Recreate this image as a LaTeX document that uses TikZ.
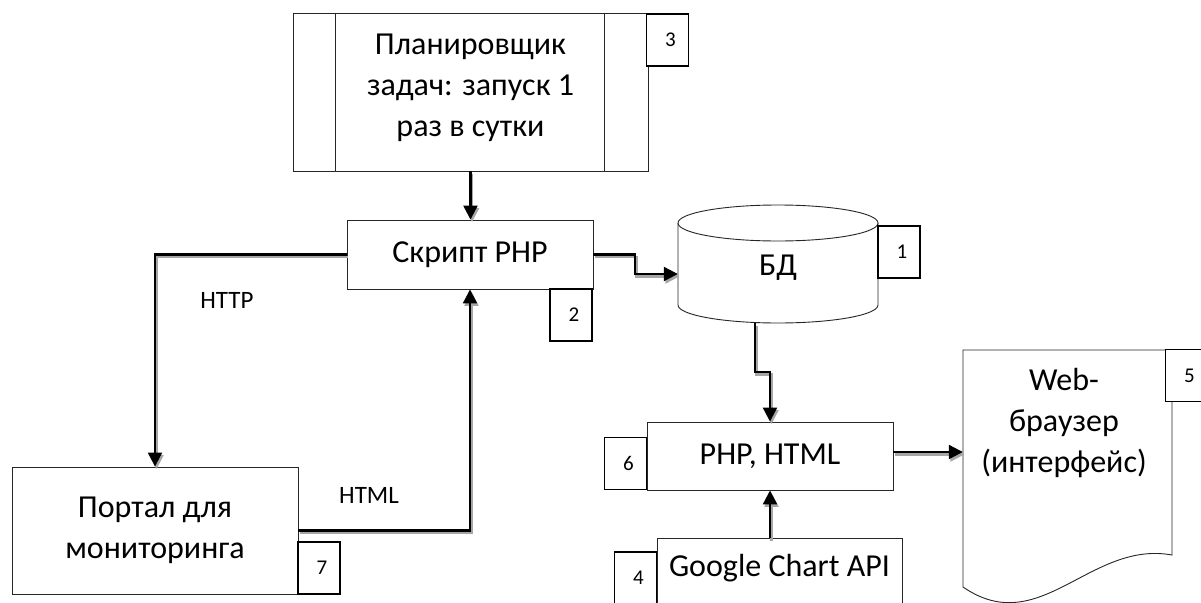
\documentclass[tikz,border=0pt]{standalone}
\usepackage{fontspec}
\setmainfont{Carlito}
\usetikzlibrary{arrows.meta,calc}
\tikzset{
 box/.style={draw=black!85, line width=0.9pt, fill=white, inner sep=0pt, align=center},
 badge/.style={draw=black, line width=1.6pt, fill=white, minimum width=42pt, minimum height=52pt, inner sep=0pt, font=\fontsize{21}{24}\selectfont},
 txt/.style={align=center, font=\fontsize{32}{41}\selectfont, inner sep=0pt},
 lbl/.style={font=\fontsize{25}{28}\selectfont, inner sep=0pt},
 conn/.style={draw=black, line width=2.2pt, -{Triangle[length=14pt,width=14pt]}},
 connsh/.style={draw=black!35, line width=2.2pt, -{Triangle[length=14pt,width=14pt]}, transform canvas={shift={(1.5pt,-2.5pt)}}},
 ghost/.style={inner sep=0pt}
}
\newcommand\linkpath[1]{\draw[connsh] #1; \draw[conn] #1;}
\begin{document}
\begin{tikzpicture}[x=1pt,y=-1pt]
\useasboundingbox (0,0) rectangle (1201,602);
\fill[white] (0,0) rectangle (1201,602);
\clip (0,0) rectangle (1201,602);

% planner
\node[box, txt, minimum width=355pt, minimum height=158pt, text depth=14pt] (plan) at (470.5,92) {Планировщик\\задач: запуск 1\\раз в сутки};
\draw[black!85, line width=0.9pt] ($(plan.north west)+(43,0)$) -- ($(plan.south west)+(43,0)$);
\draw[black!85, line width=0.9pt] ($(plan.north east)+(-44,0)$) -- ($(plan.south east)+(-44,0)$);

% script
\node[box, txt, minimum width=246pt, minimum height=69pt] (script) at (470,254.5) {Скрипт PHP};

% database cylinder
\draw[black!85, line width=0.9pt, fill=white] (678,223) -- (678,305) arc[start angle=180, end angle=360, x radius=100pt, y radius=18pt] -- (878,223);
\draw[black!85, line width=0.9pt, fill=white] (778,223) ellipse [x radius=100pt, y radius=18pt];
\node[ghost, txt, minimum width=200pt, minimum height=110pt] (db) at (778,268) {БД};

% php html
\node[box, txt, minimum width=246pt, minimum height=68pt] (php) at (770,456) {PHP, HTML};

% google
\node[box, minimum width=245pt, minimum height=90pt, anchor=north] (google) at (779.5,538) {};
\node[txt] at (779.5,568) {Google Chart API};

% portal
\node[box, txt, minimum width=286pt, minimum height=127pt] (portal) at (155,530.5) {Портал для\\мониторинга};

% web browser (document shape)
\path[draw=black!85, line width=0.9pt, fill=white] (963,350) -- (1172,350) -- (1172,555) .. controls (1090,540) and (1040,640) .. (963,587) -- cycle;
\node[ghost, minimum width=209pt, minimum height=237pt] (web) at (1067.5,468.5) {};
\node[txt] at (1064,423) {Web-\\браузер\\(интерфейс)};

% connectors
\linkpath{(plan.south) -- (plan.south |- script.north)}
\linkpath{(script.west) -| (portal.north)}
\linkpath{(portal.east) -| (script.south)}
\coordinate (m1) at (635,274);
\linkpath{(script.east) -| (m1) -- (m1 -| db.west)}
\coordinate (m2) at (770,372);
\linkpath{($(db.south)+(-23,0)$) |- (m2) -- (php.north)}
\linkpath{(php.south |- google.north) -- (php.south)}
\coordinate (m3) at ($(php.east)+(0,-4)$);
\linkpath{(m3) -- (m3 -| web.west)}

% labels
\node[lbl] at (227,300) {HTTP};
\node[lbl] at (369,495) {HTML};

% badges
\node[badge] (b3) at (667.5,40) {\hspace*{6pt}3};
\node[badge] (b2) at (571,315) {\hspace*{6pt}2};
\node[badge] (b1) at (899,252) {\hspace*{6pt}1};
\node[badge] (b7) at (319,568) {\hspace*{6pt}7};
\node[badge] (b6) at (625.5,463.5) {\hspace*{6pt}6};
\node[badge] (b5) at (1186.5,375.5) {\hspace*{6pt}5};
\node[badge] (b4) at (635.5,578) {\hspace*{6pt}4};
\end{tikzpicture}
\end{document}
